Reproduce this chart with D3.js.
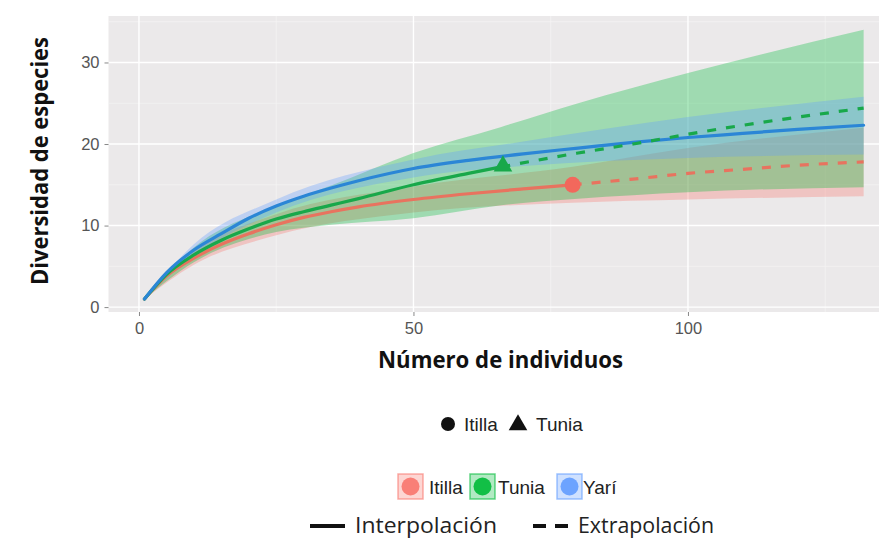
<!DOCTYPE html>
<html><head><meta charset="utf-8">
<script src="https://cdn.jsdelivr.net/npm/d3@7"></script>
<style>body{margin:0;background:#fff;} svg{display:block;}</style>
</head><body>
<svg id="c" width="879" height="550"></svg>
<script>
// ---- data ----
const siteNames = ["Itilla", "Tunia", "Yarí"];
const siteColors = ["#E8735F", "#18A84A", "#2B86D6"];
const bandColors = ["#F8766D", "#00BA38", "#619CFF"];

// Itilla
const itillaInterpX = [1, 5, 10, 15, 20, 25, 30, 35, 40, 50, 60, 70, 79];
const itillaInterpY = [1, 3.8, 6.0, 7.7, 9.0, 10.1, 11.0, 11.7, 12.3, 13.2, 13.9, 14.5, 15.0];
const itillaExtrapX = [79, 90, 100, 110, 120, 132];
const itillaExtrapY = [15.0, 15.7, 16.4, 16.9, 17.4, 17.8];
const itillaBandX = [1, 10, 25, 50, 79, 100, 132];
const itillaLower = [1, 5.2, 8.8, 11.6, 12.8, 13.2, 13.6];
const itillaUpper = [1, 6.8, 11.4, 14.8, 17.2, 19.5, 22.0];

// Tunia
const tuniaInterpX = [1, 5, 10, 15, 20, 25, 30, 35, 40, 50, 60, 66];
const tuniaInterpY = [1, 4.0, 6.4, 8.2, 9.6, 10.8, 11.7, 12.5, 13.3, 15.0, 16.4, 17.2];
const tuniaExtrapX = [66, 80, 90, 100, 110, 120, 132];
const tuniaExtrapY = [17.2, 18.9, 20.0, 21.2, 22.3, 23.3, 24.4];
const tuniaBandX = [1, 10, 25, 35, 50, 66, 80, 100, 132];
const tuniaLower = [1, 5.5, 9.2, 10.1, 10.9, 12.5, 13.3, 14.1, 14.7];
const tuniaUpper = [1, 7.3, 12.4, 14.9, 18.9, 22.1, 25.0, 28.7, 34.0];

// Yarí
const yariInterpX = [1, 5, 10, 15, 20, 25, 30, 35, 40, 50, 60, 70, 80, 90, 100, 110, 120, 132];
const yariInterpY = [1, 4.2, 7.0, 9.0, 10.9, 12.4, 13.6, 14.6, 15.5, 17.0, 18.0, 18.8, 19.5, 20.2, 20.8, 21.3, 21.8, 22.3];
const yariBandX = [1, 10, 25, 50, 70, 100, 132];
const yariLower = [1, 6.3, 11.6, 15.9, 17.3, 18.3, 18.7];
const yariUpper = [1, 7.7, 13.2, 18.1, 20.3, 23.3, 25.8];

// observed reference points
const refX = [79, 66.3];
const refY = [15.0, 17.3];

const xTicks = [0, 50, 100];
const xMinor = [25, 75, 125];
const yTicks = [0, 10, 20, 30];
const yMinor = [5, 15, 25, 35];

// ---- layout ----
const svg = d3.select("#c");
const x = d3.scaleLinear().domain([-5.55, 138.55]).range([108.5, 899.6]);
const y = d3.scaleLinear().domain([-0.6, 35.7]).range([312, 16]);
const pL = 108.5, pR = 899.6, pT = 16, pB = 312;

svg.append("rect").attr("x", pL).attr("y", pT).attr("width", pR - pL).attr("height", pB - pT).attr("fill", "#EBE9EA");

// grid
const g = svg.append("g");
g.selectAll(".xm").data(xMinor).join("line").attr("x1", d => x(d)).attr("x2", d => x(d)).attr("y1", pT).attr("y2", pB).attr("stroke", "#F5F4F4").attr("stroke-width", 0.7);
g.selectAll(".ym").data(yMinor).join("line").attr("y1", d => y(d)).attr("y2", d => y(d)).attr("x1", pL).attr("x2", pR).attr("stroke", "#F5F4F4").attr("stroke-width", 0.7);
g.selectAll(".xM").data(xTicks).join("line").attr("x1", d => x(d)).attr("x2", d => x(d)).attr("y1", pT).attr("y2", pB).attr("stroke", "#FFFFFF").attr("stroke-width", 1.4);
g.selectAll(".yM").data(yTicks).join("line").attr("y1", d => y(d)).attr("y2", d => y(d)).attr("x1", pL).attr("x2", pR).attr("stroke", "#FFFFFF").attr("stroke-width", 1.4);

svg.append("clipPath").attr("id", "pc").append("rect").attr("x", pL).attr("y", pT).attr("width", pR - pL).attr("height", pB - pT);
const plot = svg.append("g").attr("clip-path", "url(#pc)");

const curve = d3.curveMonotoneX;
const area = d3.area().x(d => x(d[0])).y0(d => y(d[1])).y1(d => y(d[2])).curve(curve);
const line = d3.line().x(d => x(d[0])).y(d => y(d[1])).curve(curve);
const zip2 = (a, b) => a.map((v, i) => [v, b[i]]);
const zip3 = (a, b, c) => a.map((v, i) => [v, b[i], c[i]]);

const bands = [
  zip3(itillaBandX, itillaLower, itillaUpper),
  zip3(tuniaBandX, tuniaLower, tuniaUpper),
  zip3(yariBandX, yariLower, yariUpper)
];
bands.forEach((b, i) => {
  plot.append("path").attr("d", area(b)).attr("fill", bandColors[i]).attr("fill-opacity", 0.32);
});

const interp = [zip2(itillaInterpX, itillaInterpY), zip2(tuniaInterpX, tuniaInterpY), zip2(yariInterpX, yariInterpY)];
const extrap = [zip2(itillaExtrapX, itillaExtrapY), zip2(tuniaExtrapX, tuniaExtrapY), null];
interp.forEach((l, i) => {
  plot.append("path").attr("d", line(l)).attr("fill", "none").attr("stroke", siteColors[i]).attr("stroke-width", 3.2).attr("stroke-linecap", "round");
});
extrap.forEach((l, i) => {
  if (!l) return;
  plot.append("path").attr("d", line(l)).attr("fill", "none").attr("stroke", siteColors[i]).attr("stroke-width", 3.2).attr("stroke-dasharray", "9,10");
});

// reference points
plot.append("circle").attr("cx", x(refX[0])).attr("cy", y(refY[0])).attr("r", 8).attr("fill", "#F2685C");
plot.append("path").attr("d", d3.symbol().type(d3.symbolTriangle).size(150)()).attr("transform", `translate(${x(refX[1])},${y(refY[1])})`).attr("fill", "#18A84A");

// axes
const tickCol = "#555";
const tf = "Liberation Sans, Arial, sans-serif";
const xa = svg.append("g").attr("transform", `translate(0,${pB})`)
  .call(d3.axisBottom(x).tickValues(xTicks).tickSize(4).tickPadding(6));
xa.select(".domain").remove();
xa.selectAll("line").attr("stroke", "#888");
xa.selectAll("text").attr("fill", tickCol).attr("font-family", tf).attr("font-size", 16.5);
const ya = svg.append("g").attr("transform", `translate(${pL},0)`)
  .call(d3.axisLeft(y).tickValues(yTicks).tickSize(4).tickPadding(5));
ya.select(".domain").remove();
ya.selectAll("line").attr("stroke", "#888");
ya.selectAll("text").attr("fill", tickCol).attr("font-family", tf).attr("font-size", 16.5);

// axis titles
svg.append("text").attr("x", 500.5).attr("y", 368).attr("text-anchor", "middle")
  .attr("font-family", "Open Sans, sans-serif").attr("font-weight", "bold").attr("font-size", 23).attr("fill", "#111")
  .attr("textLength", 245).attr("lengthAdjust", "spacingAndGlyphs")
  .text("Número de individuos");
svg.append("text").attr("transform", "translate(48,161) rotate(-90)").attr("text-anchor", "middle")
  .attr("font-family", "Open Sans, sans-serif").attr("font-weight", "bold").attr("font-size", 23).attr("fill", "#111")
  .attr("textLength", 248).attr("lengthAdjust", "spacingAndGlyphs")
  .text("Diversidad de especies");

// legend 1: shapes
const lf = "Liberation Sans, Arial, sans-serif";
const l1 = svg.append("g");
l1.append("circle").attr("cx", 448).attr("cy", 424).attr("r", 7).attr("fill", "#111");
l1.append("text").attr("x", 464).attr("y", 431).attr("font-family", lf).attr("font-size", 19).attr("fill", "#222").text(siteNames[0]);
l1.append("path").attr("d", d3.symbol().type(d3.symbolTriangle).size(150)()).attr("transform", "translate(518,425)").attr("fill", "#111");
l1.append("text").attr("x", 536).attr("y", 431).attr("font-family", lf).attr("font-size", 19).attr("fill", "#222").text(siteNames[1]);

// legend 2: colours
const keyX = [398, 470, 557];
const textX = [429, 498, 583];
const l2 = svg.append("g");
siteNames.forEach((n, i) => {
  const kx = keyX[i];
  l2.append("rect").attr("x", kx).attr("y", 474).attr("width", 25).attr("height", 25)
    .attr("fill", bandColors[i]).attr("fill-opacity", 0.3).attr("stroke", bandColors[i]).attr("stroke-opacity", 0.6).attr("stroke-width", 1.5);
  l2.append("circle").attr("cx", kx + 12.5).attr("cy", 486.5).attr("r", 9).attr("fill", bandColors[i]).attr("fill-opacity", 0.9);
  l2.append("text").attr("x", textX[i]).attr("y", 494).attr("font-family", lf).attr("font-size", 19).attr("fill", "#222").text(n);
});

// legend 3: line types
const l3 = svg.append("g");
l3.append("line").attr("x1", 310).attr("x2", 345).attr("y1", 526).attr("y2", 526).attr("stroke", "#111").attr("stroke-width", 4);
l3.append("text").attr("x", 355).attr("y", 533).attr("font-family", "Open Sans, sans-serif").attr("font-size", 22).attr("fill", "#222")
  .attr("textLength", 142).attr("lengthAdjust", "spacingAndGlyphs").text("Interpolación");
l3.append("line").attr("x1", 533).attr("x2", 568).attr("y1", 526).attr("y2", 526).attr("stroke", "#111").attr("stroke-width", 4).attr("stroke-dasharray", "13,9");
l3.append("text").attr("x", 578).attr("y", 533).attr("font-family", "Open Sans, sans-serif").attr("font-size", 22).attr("fill", "#222")
  .attr("textLength", 136).attr("lengthAdjust", "spacingAndGlyphs").text("Extrapolación");
</script>
</body></html>
